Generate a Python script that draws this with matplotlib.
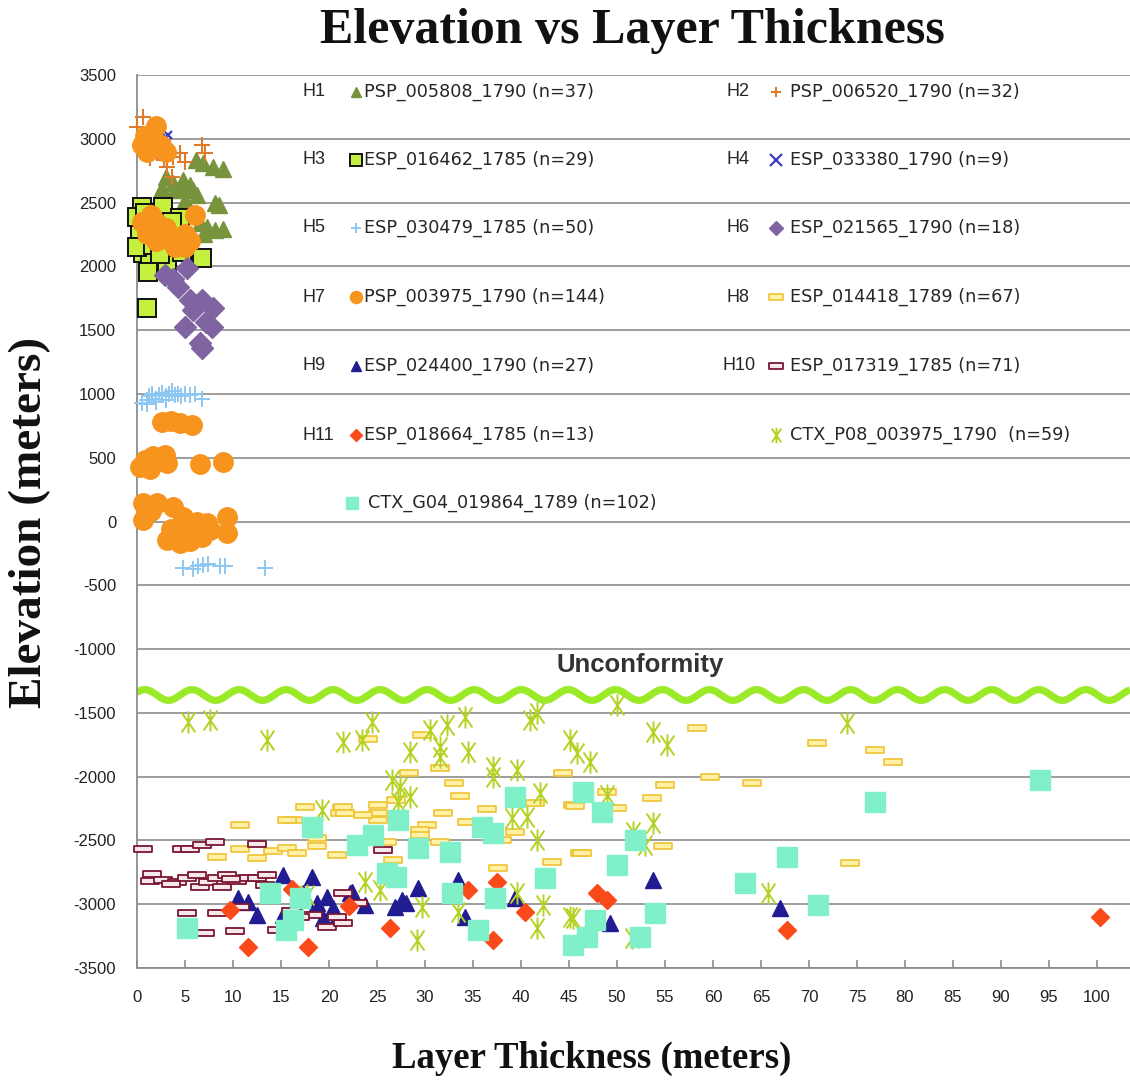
import numpy as np
import matplotlib
matplotlib.use("Agg")
import matplotlib.pyplot as plt
from matplotlib.path import Path

plt.rcParams["axes.unicode_minus"] = False

# ---------------- data (layer thickness [m], elevation [m]) ----------------
h1_x = [6.1, 7.9, 2.6, 3.8, 4.8, 5.8, 5.0, 8.1, 7.3, 8.1, 6.6, 6.9, 9.0, 4.0, 3.0, 5.5, 7.0, 8.5, 9.0, 6.2, 4.5]
h1_y = [2834, 2779, 2614, 2653, 2677, 2599, 2520, 2497, 2308, 2285, 2340, 2810, 2760, 2600, 2700, 2640, 2250, 2480, 2290, 2560, 2620]

h2_x = [0.6, 0.0, 1.0, 6.8, 7.1, 3.8, 4.5, 3.1, 3.6, 2.4, 1.4, 0.3, 2.0, 2.8, 5.0, 1.8, 0.8]
h2_y = [3170, 3093, 3046, 2952, 2889, 2858, 2889, 2780, 2700, 2889, 2850, 2950, 3000, 2830, 2820, 2950, 2900]

h3_x = [0.5, 2.7, 4.5, 0.3, 0.6, 1.4, 3.1, 4.7, 6.8, 1.1, 1.0, 3.4, 0.0, 1.7, 0.0, 3.6, 2.0, 0.8, 2.4]
h3_y = [2466, 2466, 2380, 2261, 2104, 2026, 2026, 2112, 2065, 1955, 1673, 2151, 2151, 2167, 2387, 2348, 2300, 2420, 2100]

h4_x = [1.6, 3.2, 1.4, 3.4, 0.2, 2.4, 2.5, 1.0, 3.0]
h4_y = [3030, 3030, 2897, 2897, 2960, 2960, 3050, 2960, 2960]

h5_x = [0.5, 1.0, 1.3, 1.6, 2.0, 2.3, 2.6, 3.0, 3.3, 3.6, 4.0, 4.3, 4.6, 5.0, 5.5, 6.0, 6.8, 1.0, 2.0, 3.0,
        4.8, 5.8, 6.4, 6.9, 7.4, 8.6, 9.2, 13.3]
h5_y = [930, 950, 980, 1000, 960, 990, 1010, 980, 1000, 1020, 990, 1000, 980, 1000, 990, 1000, 960, 920, 940, 950,
        -365, -370, -350, -340, -330, -345, -350, -365]

h6_x = [2.9, 5.2, 4.3, 5.5, 6.8, 7.9, 5.8, 5.0, 7.8, 6.6, 6.8, 3.8, 6.2, 7.2]
h6_y = [1932, 1987, 1838, 1736, 1736, 1673, 1657, 1524, 1524, 1399, 1360, 1900, 1700, 1560]

h7_x = [0.5, 1.0, 2.0, 2.5, 1.5, 3.0, 0.8,
        0.5, 1.0, 1.5, 2.0, 2.5, 3.0, 3.5, 4.0, 4.5, 5.0, 5.5, 6.0, 1.0, 2.0, 3.0, 5.0,
        2.6, 3.5, 4.5, 5.7,
        0.3, 1.7, 2.9, 3.1, 1.4, 6.6, 9.0, 0.8, 2.3,
        0.6, 0.6, 2.1, 3.8, 4.8, 6.2, 7.3, 9.4, 9.4, 3.1, 4.5, 6.2, 7.6, 4.5, 1.5, 5.5, 6.8, 3.5]
h7_y = [2950, 2900, 3100, 2950, 3000, 2900, 3020,
        2350, 2300, 2400, 2350, 2300, 2250, 2200, 2150, 2200, 2250, 2200, 2400, 2250, 2200, 2300, 2150,
        780, 790, 770, 760,
        430, 510, 520, 460, 410, 450, 470, 480, 500,
        145, 10, 145, 115, 35, -5, -10, 35, -90, -145, -170, -90, -65, -40, 80, -150, -120, -60]

h8_x = [10.7, 16.3, 17.5, 21.4, 21.1, 8.3, 10.7, 12.5, 14.2, 15.6, 16.7, 18.8, 20.8, 18.8, 15.6,
        24.1, 29.7, 31.6, 28.3, 33.6, 21.5, 21.7, 25.1, 25.1, 25.1, 31.9, 34.4, 30.2, 29.5, 29.5,
        26.0, 31.6, 39.4, 41.5, 44.4, 45.4, 46.1, 43.2, 37.6, 26.7,
        58.3, 70.8, 76.9, 78.8, 59.7, 64.1, 55.0, 53.6, 49.0, 50.0, 45.6, 54.8, 46.4, 74.3,
        23.5, 27.0, 33.0, 36.5, 38.0]
h8_y = [-2379, -2340, -2238, -2246, -2285, -2630, -2567, -2638, -2583, -2559, -2599, -2544, -2614, -2481, -2340,
        -1705, -1673, -1932, -1971, -2152, -2238, -2285, -2222, -2285, -2340, -2285, -2356, -2379, -2418, -2458,
        -2512, -2512, -2434, -2207, -1971, -2222, -2599, -2669, -2716, -2653,
        -1618, -1736, -1791, -1885, -2003, -2050, -2066, -2168, -2121, -2246, -2230, -2544, -2599, -2677,
        -2300, -2180, -2050, -2250, -2500]

h9_x = [15.2, 18.2, 10.5, 11.6, 12.5, 15.2, 17.3, 19.8, 18.8, 19.4, 20.4, 22.4, 20.8,
        22.2, 23.8, 26.9, 27.6, 29.3, 34.2, 39.4, 33.4, 53.8, 49.3, 67.0, 16.5, 28.0]
h9_y = [-2771, -2787, -2952, -2983, -3085, -3085, -2912, -2944, -2991, -3108, -3030, -2905, -3100,
        -2912, -3006, -3022, -2967, -2873, -3100, -2952, -2810, -2810, -3148, -3030, -3000, -2990]

h10_x = [0.6, 4.7, 5.5, 6.8, 8.1, 12.5, 1.6, 1.4, 2.7, 4.2, 5.2, 6.2, 6.6, 7.4, 8.3, 9.4, 8.9,
         10.4, 11.5, 12.5, 13.5, 13.3, 5.2, 8.3, 7.1, 10.2, 10.7, 14.6, 21.5, 18.3, 19.8, 21.5, 20.8,
         25.6, 3.5, 9.8, 16.0, 17.0, 23.0]
h10_y = [-2567, -2567, -2567, -2536, -2512, -2528, -2763, -2818, -2810, -2826, -2795, -2771, -2865,
         -2826, -2795, -2771, -2865, -2818, -2795, -2795, -2771, -2849, -3069, -3069, -3226, -3210,
         -3022, -3202, -2912, -3085, -3179, -3148, -3100, -2575, -2840, -2800, -3050, -3100, -2990]

h11_x = [9.7, 11.6, 16.1, 17.8, 22.1, 26.4, 34.5, 37.5, 37.1, 40.4, 47.9, 49.0, 67.7, 100.3]
h11_y = [-3045, -3335, -2881, -3335, -3015, -3186, -2889, -2826, -3280, -3061, -2912, -2967, -3202, -3100]

p08_x = [5.3, 7.6, 13.5, 24.5, 21.5, 23.4, 28.4, 30.5, 32.3, 31.6, 31.6, 34.2, 34.5, 40.9, 41.7,
         37.1, 37.1, 39.6, 45.1, 45.8, 26.6, 27.4, 28.4, 27.2, 42.0, 39.1, 40.6, 41.7,
         23.8, 25.3, 29.7, 33.4, 29.2, 41.7, 45.1, 39.6, 42.3,
         50.0, 47.2, 53.8, 55.2, 74.0, 49.0, 53.8, 51.7, 52.9, 65.7, 51.6, 45.4,
         19.3, 17.7]
p08_y = [-1571, -1556, -1713, -1571, -1728, -1713, -1807, -1634, -1595, -1767, -1846, -1532, -1807, -1556, -1501,
         -1924, -2003, -1948, -1713, -1815, -2026, -2081, -2160, -2199, -2128, -2324, -2316, -2497,
         -2826, -2889, -3022, -3061, -3280, -3186, -3100, -2912, -3006,
         -1438, -1885, -1650, -1752, -1579, -2144, -2364, -2434, -2536, -2912, -3265, -3108,
         -2261, -2928]

g04_x = [13.9, 5.2, 16.3, 18.2, 22.9, 24.6, 27.2, 29.3, 26.0, 32.6, 32.8, 35.5, 37.3, 35.9, 37.1,
         39.4, 42.5, 45.4, 46.5, 48.4, 51.9, 50.0, 54.0, 52.4, 47.7, 46.9, 63.3, 67.7, 70.9, 76.9,
         94.1, 15.5, 17.0, 27.0]
g04_y = [-2912, -3186, -3124, -2395, -2536, -2458, -2340, -2559, -2755, -2591, -2912, -3202, -2952, -2395, -2442,
         -2160, -2795, -3320, -2121, -2277, -2497, -2693, -3069, -3257, -3124, -3257, -2834, -2630, -3006, -2199,
         -2026, -3200, -2950, -2790]

x_ticks = list(range(0, 101, 5))
y_ticks = list(range(-3500, 3501, 500))
unconformity_level = -1360

# ---------------- markers ----------------
dash_marker = Path([(-1, -0.38), (1, -0.38), (1, 0.38), (-1, 0.38), (-1, -0.38)],
                   [Path.MOVETO, Path.LINETO, Path.LINETO, Path.LINETO, Path.CLOSEPOLY])
star_marker = Path([(0, -1), (0, 1), (-0.62, -0.9), (0.62, 0.9), (-0.62, 0.9), (0.62, -0.9)],
                   [Path.MOVETO, Path.LINETO, Path.MOVETO, Path.LINETO, Path.MOVETO, Path.LINETO])

styles = {
    "H1": dict(marker="^", ms=11, color="#77933C", mec="#77933C"),
    "H2": dict(marker="+", ms=12, color="#DD7A2C", mew=1.5),
    "H3": dict(marker="s", ms=13, mfc="#C6F03E", mec="#111111", mew=1.4),
    "H4": dict(marker="x", ms=6, color="#3B3BC4", mew=1.6),
    "H5": dict(marker="+", ms=11, color="#8EC8F2", mew=1.4),
    "H6": dict(marker="D", ms=11, color="#8064A2"),
    "H7": dict(marker="o", ms=14, color="#F7941E"),
    "H8": dict(marker=dash_marker, ms=13, mfc="#FFF1A6", mec="#F0C233", mew=1.2),
    "H9": dict(marker="^", ms=12, color="#221C93"),
    "H10": dict(marker=dash_marker, ms=13, mfc="#F6E8EC", mec="#7A1632", mew=1.3),
    "H11": dict(marker="D", ms=9.5, color="#FA4A1A"),
    "P08": dict(marker=star_marker, ms=16, color="#B3D324", mew=1.4, mfc="none"),
    "G04": dict(marker="s", ms=14, color="#80F0C8"),
}

fig = plt.figure(figsize=(11.3, 10.87), dpi=100)
ax = fig.add_axes([137 / 1130, 1 - 968 / 1087, (1130 - 137) / 1130, (968 - 75) / 1087])

series = [
    ("H1", h1_x, h1_y), ("H2", h2_x, h2_y), ("H3", h3_x, h3_y), ("H4", h4_x, h4_y),
    ("H5", h5_x, h5_y), ("H6", h6_x, h6_y), ("H7", h7_x, h7_y), ("H8", h8_x, h8_y),
    ("H9", h9_x, h9_y), ("H10", h10_x, h10_y), ("H11", h11_x, h11_y),
    ("P08", p08_x, p08_y), ("G04", g04_x, g04_y),
]
for z, (key, xs, ys) in enumerate(series):
    ax.plot(xs, ys, linestyle="none", zorder=3 + z * 0.1, clip_on=False, **styles[key])

# wavy unconformity line
xmax = (1130 - 137) / 9.6
wx = np.linspace(0, xmax, 1200)
wy = unconformity_level + 42 * np.sin(2 * np.pi * wx / 4.9 + 0.5)
ax.plot(wx, wy, color="#9BEA27", lw=5.2, solid_capstyle="butt", zorder=2.5)
ax.text(52.4, -1125, "Unconformity", ha="center", va="center", fontsize=18.5,
        fontweight="bold", family="Liberation Sans", color="#333333", zorder=4)

# axes styling
grid_c = "#8C8C8C"
ax.set_xlim(0, xmax)
ax.set_ylim(-3500, 3500)
ax.set_yticks(y_ticks)
ax.set_xticks(x_ticks)
ax.grid(axis="y", color=grid_c, lw=1.2, zorder=1)
ax.set_axisbelow(True)
for s in ("top", "right"):
    ax.spines[s].set_visible(False)
for s in ("left", "bottom"):
    ax.spines[s].set_color(grid_c)
    ax.spines[s].set_linewidth(1.3)
ax.tick_params(axis="y", length=0, pad=15, labelcolor="#222222")
ax.tick_params(axis="x", direction="in", length=6, color=grid_c, width=1.2, pad=16, labelcolor="#222222")
for lab in ax.get_xticklabels() + ax.get_yticklabels():
    lab.set_fontfamily("Liberation Sans")
    lab.set_fontsize(12)

# legend rows
def axfrac(px, py):
    return (px - 137) / 993, (968 - py) / 893

legend_rows = [
    ("H1", "H1", "PSP_005808_1790 (n=37)", 302, 356, 364, 92),
    ("H2", "H2", "PSP_006520_1790 (n=32)", 727, 776, 790, 92),
    ("H3", "H3", "ESP_016462_1785 (n=29)", 302, 356, 364, 160),
    ("H4", "H4", "ESP_033380_1790 (n=9)", 727, 776, 790, 160),
    ("H5", "H5", "ESP_030479_1785 (n=50)", 302, 356, 364, 228),
    ("H6", "H6", "ESP_021565_1790 (n=18)", 727, 776, 790, 228),
    ("H7", "H7", "PSP_003975_1790 (n=144)", 302, 356, 364, 297),
    ("H8", "H8", "ESP_014418_1789 (n=67)", 727, 776, 790, 297),
    ("H9", "H9", "ESP_024400_1790 (n=27)", 302, 356, 364, 366),
    ("H10", "H10", "ESP_017319_1785 (n=71)", 723, 776, 790, 366),
    ("H11", "H11", "ESP_018664_1785 (n=13)", 302, 356, 364, 435),
    ("P08", "", "CTX_P08_003975_1790  (n=59)", 727, 776, 790, 435),
    ("G04", "", "CTX_G04_019864_1789 (n=102)", 302, 352, 368, 503),
]
legend_scale = 0.62
for key, hname, text, hx, mx, tx, py in legend_rows:
    st = dict(styles[key])
    st["ms"] = st["ms"] * legend_scale
    if key in ("H8", "H10"):
        st["ms"] = 10
    if key == "H4":
        st["ms"] = 9
    if key == "P08":
        st["ms"] = 11
    ax.plot(*[[v] for v in axfrac(mx, py)], transform=ax.transAxes, linestyle="none",
            clip_on=False, zorder=6, **st)
    if hname:
        ax.text(*axfrac(hx, py), hname, transform=ax.transAxes, ha="left", va="center",
                fontsize=13, family="Liberation Sans", color="#262626", zorder=6)
    ax.text(*axfrac(tx, py), text, transform=ax.transAxes, ha="left", va="center",
            fontsize=12.7, family="DejaVu Sans", color="#262626", zorder=6)

fig.text(632 / 1130, 1 - 31 / 1087, "Elevation vs Layer Thickness", ha="center", va="center",
         fontsize=36, fontweight="bold", family="Liberation Serif", color="#111111")
fig.text(30 / 1130, 1 - 522 / 1087, "Elevation (meters)", ha="center", va="center", rotation=90,
         fontsize=34, fontweight="bold", family="Liberation Serif", color="#111111")
fig.text(592 / 1130, 1 - 1058 / 1087, "Layer Thickness (meters)", ha="center", va="center",
         fontsize=26.5, fontweight="bold", family="Liberation Serif", color="#111111")

fig.savefig("out.png", dpi=100)
